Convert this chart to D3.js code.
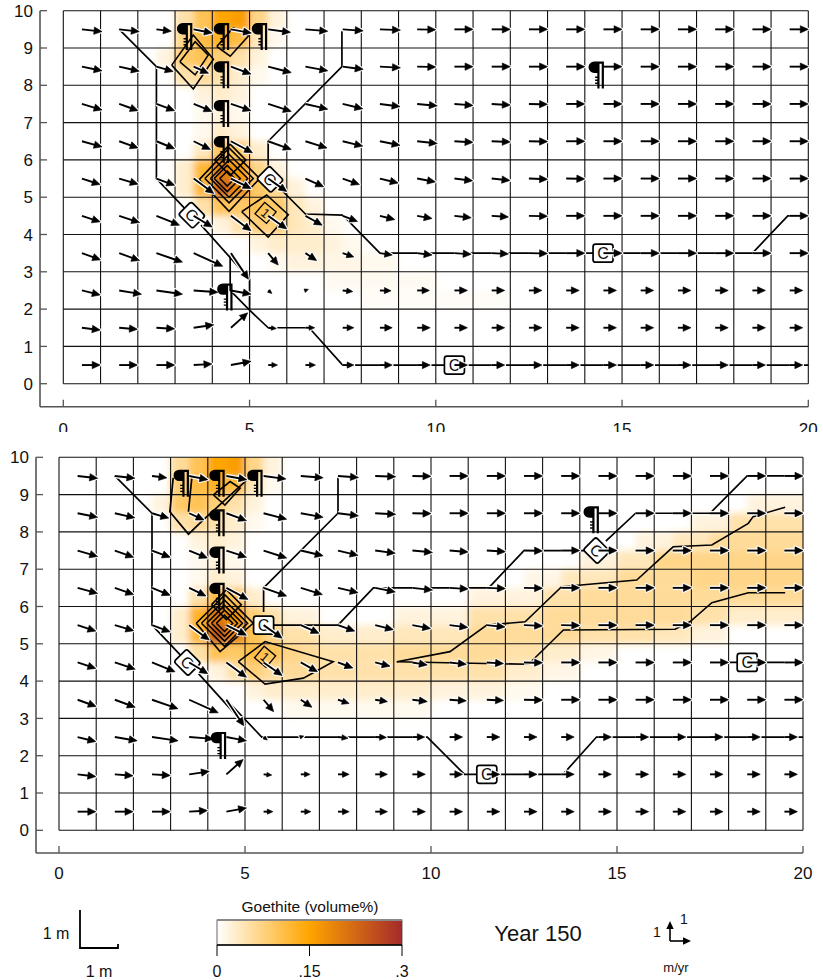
<!DOCTYPE html>
<html><head><meta charset="utf-8">
<script src="https://cdn.jsdelivr.net/npm/d3@7"></script>
<style>
body{margin:0;background:#fff}
svg{display:block}
text{font-family:"Liberation Sans",Arial,sans-serif;fill:#111}
</style>
</head><body>
<svg id="chart" width="823" height="980"></svg>
<script>
// ---------------- DATA ----------------
const X_TICKS = [0, 5, 10, 15, 20];
const Y_TICKS = [0, 1, 2, 3, 4, 5, 6, 7, 8, 9, 10];
const GRID_X = [0,1,2,3,4,5,6,7,8,9,10,11,12,13,14,15,16,17,18,19,20];
const GRID_Y = [0,1,2,3,4,5,6,7,8,9,10];
const CELL_X = [0.5,1.5,2.5,3.5,4.5,5.5,6.5,7.5,8.5,9.5,10.5,11.5,12.5,13.5,14.5,15.5,16.5,17.5,18.5,19.5];
const CELL_Y = [9.5,8.5,7.5,6.5,5.5,4.5,3.5,2.5,1.5,0.5];
// velocity arrows (horizontal / vertical component, hundredths of m per plotted unit)
const U = [
 [54,54,40,50,55,60,60,55,55,50,50,50,50,50,50,50,50,50,50,50],
 [54,54,45,40,54,62,60,55,55,50,50,50,50,50,50,50,50,50,50,50],
 [54,51,49,49,54,62,60,54,54,54,50,50,50,50,50,50,50,50,50,50],
 [54,51,49,45,58,62,58,54,54,54,50,50,50,50,50,50,50,50,50,50],
 [49,51,49,54,54,50,49,45,49,49,49,49,50,50,50,50,50,50,50,50],
 [49,55,62,50,54,50,45,40,40,40,45,45,50,50,50,50,50,50,50,50],
 [50,55,70,78,47,27,30,30,33,40,45,45,50,50,50,50,50,50,50,50],
 [49,60,70,65,54,10,8,27,30,33,35,35,35,35,35,35,35,35,35,35],
 [49,49,49,54,45,22,25,30,33,35,35,35,35,35,35,35,35,35,35,35],
 [49,49,49,49,54,25,27,30,33,35,35,35,35,35,35,35,35,35,35,35]
];
const V = [
 [-6,-6,-5,-10,-10,-8,-5,-4,-2,-1,0,0,0,0,0,0,0,0,0,0],
 [-11,-12,-13,-18,-20,-16,-11,-7,-3,-1,0,0,0,0,0,0,0,0,0,0],
 [-16,-18,-18,-20,-18,-20,-14,-13,-7,-5,-4,-3,-1,0,0,0,0,0,0,0],
 [-15,-18,-20,-22,-31,-22,-18,-13,-11,-6,-3,-2,-1,0,0,0,0,0,0,0],
 [-16,-15,-18,-40,-27,-35,-22,-16,-12,-9,-6,-5,-2,-1,0,0,0,0,0,0],
 [-16,-18,-25,-30,-40,-35,-25,-15,-10,-7,-5,-3,-1,0,0,0,0,0,0,0],
 [-18,-20,-24,-35,-70,-32,-20,-10,-5,-5,-3,-2,-1,0,0,0,0,0,0,0],
 [-12,-10,-10,-5,-10,-8,3,-3,-1,0,0,0,0,0,0,0,0,0,0,0],
 [-6,-4,-3,8,40,-2,0,0,0,0,0,0,0,0,0,0,0,0,0,0],
 [0,0,0,3,10,0,0,0,0,0,0,0,0,0,0,0,0,0,0,0]
];
// goethite volume% : [yBottom, xLeft, xRight, value], cell height 0.5 m
const HEAT_TOP = [
 [9.5,3,3.5,.05],[9.5,3.5,4,.1],[9.5,4,4.5,.15],[9.5,4.5,5,.16],[9.5,5,5.5,.07],[9.5,5.5,6,.02],
 [9,3,3.5,.07],[9,3.5,4,.11],[9,4,4.5,.13],[9,4.5,5,.11],[9,5,5.5,.04],[9,5.5,6,.01],
 [8.5,2.5,3,.02],[8.5,3,3.5,.09],[8.5,3.5,4,.1],[8.5,4,4.5,.08],[8.5,4.5,5,.05],[8.5,5,5.5,.02],
 [8,3,3.5,.05],[8,3.5,4,.06],[8,4,4.5,.05],[8,4.5,5,.03],[8,5,5.5,.01],
 [7.5,3.5,4,.02],[7.5,4,4.5,.03],[7.5,4.5,5,.02],
 [7,3.5,4,.01],[7,4,4.5,.02],[7,4.5,5,.01],
 [6.5,3.5,4,.01],[6.5,4,4.5,.03],[6.5,4.5,5,.02],
 [6,3.5,4,.04],[6,4,4.5,.1],[6,4.5,5,.09],[6,5,5.5,.03],
 [5.5,3,3.5,.03],[5.5,3.5,4,.12],[5.5,4,4.5,.2],[5.5,4.5,5,.16],[5.5,5,5.5,.07],[5.5,5.5,6,.02],
 [5,3,3.5,.03],[5,3.5,4,.12],[5,4,4.5,.23],[5,4.5,5,.18],[5,5,5.5,.09],[5,5.5,6,.06],[5,6,6.5,.02],
 [4.5,3.5,4,.05],[4.5,4,4.5,.1],[4.5,4.5,5,.09],[4.5,5,5.5,.1],[4.5,5.5,6,.09],[4.5,6,6.5,.04],[4.5,6.5,7,.02],
 [4,4,4.5,.02],[4,4.5,5,.05],[4,5,5.5,.08],[4,5.5,6,.08],[4,6,6.5,.04],[4,6.5,7,.03],[4,7,7.5,.01],
 [3.5,5,5.5,.02],[3.5,5.5,6,.03],[3.5,6,7,.03],[3.5,7,7.5,.02],[3.5,7.5,8,.01],
 [3,5.5,6,.01],[3,6,7,.02],[3,7,8,.015],[3,8,9,.01],
 [2.5,7,10,.008],[2,8,12,.005]
];
const HEAT_BOTTOM = [
 [9.5,3,3.5,.06],[9.5,3.5,4,.1],[9.5,4,4.5,.15],[9.5,4.5,5,.16],[9.5,5,5.5,.07],[9.5,5.5,6,.02],
 [9,3,3.5,.08],[9,3.5,4,.11],[9,4,4.5,.13],[9,4.5,5,.11],[9,5,5.5,.04],[9,5.5,6,.01],
 [8.5,2.5,3,.02],[8.5,3,3.5,.09],[8.5,3.5,4,.1],[8.5,4,4.5,.08],[8.5,4.5,5,.05],[8.5,5,5.5,.02],
 [8,3,3.5,.05],[8,3.5,4,.06],[8,4,4.5,.05],[8,4.5,5,.03],[8,5,5.5,.01],
 [7.5,3.5,4,.02],[7.5,4,4.5,.03],[7.5,4.5,5,.02],
 [7,3.5,4,.01],[7,4,4.5,.02],[7,4.5,5,.01],
 [6.5,3.5,4,.01],[6.5,4,4.5,.03],[6.5,4.5,5,.02],
 [6,3.5,4,.05],[6,4,4.5,.11],[6,4.5,5,.1],[6,5,5.5,.03],
 [5.5,3,3.5,.03],[5.5,3.5,4,.13],[5.5,4,4.5,.21],[5.5,4.5,5,.17],[5.5,5,5.5,.08],[5.5,5.5,6,.05],[5.5,6,7,.02],[5.5,9,11,.02],[5.5,11,13,.05],[5.5,13,17,.06],[5.5,17,18,.05],[5.5,18,20,.03],
 [5,3,3.5,.03],[5,3.5,4,.12],[5,4,4.5,.24],[5,4.5,5,.19],[5,5,5.5,.1],[5,5.5,6,.07],[5,6,7,.05],[5,7,9,.03],[5,9,11,.04],[5,11,14,.06],[5,14,16,.05],[5,16,17,.04],[5,17,18,.02],
 [4.5,3.5,4,.05],[4.5,4,4.5,.1],[4.5,4.5,5,.09],[4.5,5,5.5,.11],[4.5,5.5,6,.1],[4.5,6,6.5,.07],[4.5,6.5,7,.06],[4.5,7,9,.05],[4.5,9,12,.06],[4.5,12,13,.05],[4.5,13,14,.03],[4.5,14,15,.015],
 [4,4,4.5,.02],[4,4.5,5,.05],[4,5,5.5,.08],[4,5.5,7,.06],[4,7,9,.05],[4,9,12,.05],[4,12,13,.03],[4,13,14,.015],
 [3.5,5,5.5,.02],[3.5,5.5,7,.03],[3.5,7,10,.03],[3.5,10,12,.02],[3.5,12,13,.01],
 [3,6,10,.01],
 [6,11,13,.02],[6,13,14,.05],[6,14,17,.06],[6,17,20,.06],
 [6.5,12.5,13.5,.015],[6.5,13.5,15,.04],[6.5,15,17,.06],[6.5,17,20,.07],
 [7,14,15,.02],[7,15,16,.04],[7,16,20,.07],
 [7.5,15.5,16.5,.02],[7.5,16.5,17.5,.04],[7.5,17.5,20,.06],
 [8,17,18,.02],[8,18,20,.05],
 [8.5,18.5,20,.02]
];
// flow paths (m)
const PATHS_TOP = [
 [[1.5,9.5],[2.5,8.5],[2.5,5.5],[3.45,4.5]],
 [[3.7,4.25],[5.0,2.8],[5.0,2.0]],
 [[4.48,3.45],[4.48,2.5],[5.0,1.97],[5.5,1.5],[6.6,1.5],[7.5,0.5],[20,0.5]],
 [[7.48,9.45],[7.48,8.5],[5.5,6.5],[5.5,5.85]],
 [[5.75,5.3],[6.5,4.55],[7.5,4.52],[8.5,3.5],[18.5,3.5],[19.45,4.5],[20,4.5]]
];
const PATHS_BOTTOM = [
 [[1.5,9.5],[2.5,8.5],[2.5,5.5],[3.45,4.5]],
 [[3.75,4.2],[5.0,2.82]],
 [[4.5,3.5],[5.45,2.5],[9.9,2.5],[10.9,1.5],[13.55,1.5],[14.45,2.5],[20,2.5]],
 [[7.5,9.45],[7.5,8.5],[5.5,6.5],[5.5,5.85]],
 [[5.75,5.5],[7.5,5.5],[8.45,6.5],[11.55,6.5],[12.5,7.5],[14.2,7.5]],
 [[14.7,7.75],[15.5,8.5],[17.5,8.5],[18.5,9.5],[20,9.5]],
 [[17.9,4.5],[20,4.5]],
 [[3.07,9.45],[2.98,8.54],[3.48,7.94],[3.88,8.32],[5.22,9.55]],
 [[3.48,8.54],[3.57,9.45]]
];
// goethite contour lines (m)
const CONTOURS_TOP = [
 [[3.65,5.47],[4.45,6.32],[5.27,5.5],[4.45,4.62],[3.65,5.47]],
 [[3.8,5.5],[4.45,6.15],[5.1,5.5],[4.45,4.85],[3.8,5.5]],
 [[3.95,5.5],[4.45,6.0],[4.95,5.5],[4.45,5.0],[3.95,5.5]],
 [[4.05,5.5],[4.4,5.85],[4.75,5.5],[4.4,5.15],[4.05,5.5]],
 [[4.2,5.5],[4.4,5.7],[4.6,5.5],[4.4,5.3],[4.2,5.5]],
 [[4.06,6.0],[4.48,6.42],[4.9,6.0],[4.48,5.58],[4.06,6.0]],
 [[4.79,4.61],[5.46,5.06],[6.04,4.53],[5.5,3.93],[4.79,4.61]],
 [[2.91,8.54],[3.49,9.35],[4.03,8.7],[3.49,7.9],[2.91,8.54]],
 [[3.13,8.63],[3.54,9.17],[3.89,8.81],[3.54,8.28],[3.13,8.63]],
 [[4.12,9.04],[4.56,9.54],[4.97,9.32],[4.48,8.78],[4.12,9.04]]
];
const CONTOURS_BOTTOM = [
 [[3.69,5.55],[4.46,6.31],[5.22,5.55],[4.33,4.79],[3.69,5.55]],
 [[3.83,5.55],[4.45,6.17],[5.07,5.55],[4.45,4.93],[3.83,5.55]],
 [[3.97,5.55],[4.45,6.03],[4.93,5.55],[4.45,5.07],[3.97,5.55]],
 [[4.1,5.55],[4.45,5.9],[4.8,5.55],[4.45,5.2],[4.1,5.55]],
 [[4.23,5.55],[4.45,5.77],[4.67,5.55],[4.45,5.33],[4.23,5.55]],
 [[4.1,6.05],[4.5,6.45],[4.9,6.05],[4.5,5.65],[4.1,6.05]],
 [[4.82,4.52],[5.54,5.06],[7.37,4.52],[6.57,4.08],[5.54,3.92],[4.82,4.52]],
 [[4.15,8.99],[4.6,9.35],[4.87,9.17],[4.46,8.72],[4.15,8.99]],
 [[9.08,4.52],[10.51,4.79],[11.5,5.5],[12.53,5.59],[13.51,6.53],[15.53,6.71],[16.51,7.6],[17.55,7.65],[18.53,8.23],[18.66,8.41],[19.52,8.66]],
 [[9.08,4.52],[12.62,4.45],[13.56,5.37],[16.56,5.39],[16.96,5.59],[17.55,6.1],[18.53,6.37],[19.52,6.37]]
];
// symbols: [x, y] or [x, y, rotation]
const PILCROW_TOP = [[3.27,9.48],[4.26,9.48],[5.28,9.48],[4.26,8.46],[4.26,7.42],[4.26,6.45],[4.35,2.5],[14.32,8.45]];
const PILCROW_BOTTOM = [[3.3,9.48],[4.26,9.48],[5.28,9.48],[4.26,8.42],[4.26,7.42],[4.26,6.45],[4.3,2.45],[14.32,8.5]];
const CMARK_TOP = [[3.45,4.52,45],[5.55,5.48,45],[14.49,3.5,0],[10.5,0.5,0]];
const CMARK_BOTTOM = [[3.45,4.5,45],[5.5,5.5,0],[14.45,7.5,45],[18.5,4.5,0],[11.5,1.5,0]];
const ONEMARK_TOP = [[5.43,4.58,40]];
const ONEMARK_BOTTOM = [[5.54,4.65,40]];
// colour bar
const CBAR_DOMAIN = [0, 0.15, 0.3];
const CBAR_COLORS = ["#ffffff", "#ffa500", "#a52a2a"];
const CBAR_TICKS = [0, 0.15, 0.3];
const CBAR_LABELS = ["0", ".15", ".3"];
const CBAR_TITLE = "Goethite (volume%)";
const YEAR_LABEL = "Year 150";

// ---------------- LAYOUT ----------------
const svg = d3.select("#chart");
const defs = svg.append("defs");
const heatColor = d3.scaleLinear().domain(CBAR_DOMAIN).range(CBAR_COLORS);

const blur = defs.append("filter").attr("id","blur").attr("x","-10%").attr("y","-10%").attr("width","120%").attr("height","120%");
blur.append("feGaussianBlur").attr("stdDeviation", 3.6);

// pilcrow-like source marker shape (local px, origin at glyph anchor)
const PIL_SHAPE =
  "M-2.5,-7 L7.2,-7 L7.2,20 L5,20 L5,-4.8 L2.8,-4.8 L2.8,20 L0.6,20 L0.6,4.4 " +
  "L-2.5,4.4 A5.7,5.7 0 0 1 -2.5,-7 Z " +
  "M0.6,8 L-1.6,8 L-1.6,9.4 L0.6,9.4 Z M0.6,11 L-1.6,11 L-1.6,12.4 L0.6,12.4 Z M0.6,14 L-1.6,14 L-1.6,15.4 L0.6,15.4 Z";

const panels = [
  {id:"top", px0:63.3, px1:808.3, py0:383.7, py1:10.7, ax:40, ay:406.7, labOff:28,
   heat:HEAT_TOP, paths:PATHS_TOP, contours:CONTOURS_TOP, pil:PILCROW_TOP, cm:CMARK_TOP, one:ONEMARK_TOP},
  {id:"bot", px0:59, px1:803, py0:830.3, py1:457.3, ax:36, ay:853, labOff:26,
   heat:HEAT_BOTTOM, paths:PATHS_BOTTOM, contours:CONTOURS_BOTTOM, pil:PILCROW_BOTTOM, cm:CMARK_BOTTOM, one:ONEMARK_BOTTOM}
];

function arrowGeom(x0,y0,x1,y1){
  const dx=x1-x0, dy=y1-y0, L=Math.hypot(dx,dy)||1;
  const ux=dx/L, uy=dy/L;
  const hl=Math.min(8, Math.max(4, L*0.6)), hw=hl*0.46;
  const bx=x1-ux*hl, by=y1-uy*hl;
  return {shaft:[[x0,y0],[bx+ux*1.5,by+uy*1.5]], head:[[x1,y1],[bx-uy*hw,by+ux*hw],[bx+uy*hw,by-ux*hw]]};
}

function drawPanel(p, gRoot){
  const x = d3.scaleLinear().domain([0,20]).range([p.px0,p.px1]);
  const y = d3.scaleLinear().domain([0,10]).range([p.py0,p.py1]);
  const g = gRoot.append("g");
  g.append("rect").attr("x",0).attr("y",p.id==="top"?0:432).attr("width",823).attr("height",p.id==="top"?432:448).attr("fill","#fff");

  const clipId="clip-"+p.id;
  defs.append("clipPath").attr("id",clipId).append("rect")
    .attr("x",x(0)).attr("y",y(10)).attr("width",x(20)-x(0)).attr("height",y(0)-y(10));

  // heat map
  const hg = g.append("g").attr("clip-path",`url(#${clipId})`).append("g").attr("filter","url(#blur)");
  hg.selectAll("rect").data(p.heat).join("rect")
    .attr("x",d=>x(d[1])-(d[1]===0?10:0))
    .attr("width",d=>x(d[2])-x(d[1])+(d[2]===20?10:0)+(d[1]===0?10:0))
    .attr("y",d=>y(d[0]+0.5)-(d[0]+0.5>=10?12:0))
    .attr("height",d=>y(d[0])-y(d[0]+0.5)+(d[0]+0.5>=10?12:0))
    .attr("fill",d=>heatColor(d[3]));

  // grid
  const gg = g.append("g").attr("stroke","#111").attr("stroke-width",1.1);
  gg.selectAll("line.v").data(GRID_X).join("line").attr("class","v")
    .attr("x1",d=>x(d)).attr("x2",d=>x(d)).attr("y1",y(0)).attr("y2",y(10));
  gg.selectAll("line.h").data(GRID_Y).join("line").attr("class","h")
    .attr("y1",d=>y(d)).attr("y2",d=>y(d)).attr("x1",x(0)).attr("x2",x(20));

  const line = d3.line().x(d=>x(d[0])).y(d=>y(d[1]));
  g.append("g").selectAll("path").data(p.contours).join("path")
    .attr("d",line).attr("fill","none").attr("stroke","#000").attr("stroke-width",1.6).attr("stroke-linejoin","miter");
  g.append("g").selectAll("path").data(p.paths).join("path")
    .attr("d",line).attr("fill","none").attr("stroke","#000").attr("stroke-width",1.7);

  // C markers
  const cm = g.append("g").selectAll("g").data(p.cm).join("g")
    .attr("transform",d=>`translate(${x(d[0])},${y(d[1])}) rotate(${d[2]})`);
  cm.append("rect").attr("x",-10).attr("y",-9).attr("width",20).attr("height",18).attr("rx",2.5)
    .attr("fill","#fff").attr("stroke","#000").attr("stroke-width",1.7);
  cm.append("text").attr("text-anchor","middle").attr("dy","0.36em").attr("font-size",16).text("C");
  // "1" markers
  const om = g.append("g").selectAll("g").data(p.one).join("g")
    .attr("transform",d=>`translate(${x(d[0])},${y(d[1])}) rotate(${d[2]})`);
  om.append("rect").attr("x",-7.5).attr("y",-7.5).attr("width",15).attr("height",15)
    .attr("fill","none").attr("stroke","#000").attr("stroke-width",1.3);
  om.append("text").attr("text-anchor","middle").attr("dy","0.36em").attr("font-size",13).text("1");

  // arrows
  const arrows=[];
  CELL_Y.forEach((cy,i)=>CELL_X.forEach((cx,j)=>{
    arrows.push(arrowGeom(x(cx),y(cy),x(cx+U[i][j]/100),y(cy+V[i][j]/100)));
  }));
  const ag = g.append("g");
  const poly = d=>"M"+d.map(q=>q.join(",")).join("L")+"Z";
  const seg = d=>"M"+d.map(q=>q.join(",")).join("L");
  ag.selectAll("path.hs").data(arrows).join("path").attr("class","hs").attr("d",d=>seg(d.shaft))
    .attr("stroke","#fff").attr("stroke-width",4.4).attr("fill","none");
  ag.selectAll("path.hh").data(arrows).join("path").attr("class","hh").attr("d",d=>poly(d.head))
    .attr("fill","#fff").attr("stroke","#fff").attr("stroke-width",2.8).attr("stroke-linejoin","round");
  ag.selectAll("path.bs").data(arrows).join("path").attr("class","bs").attr("d",d=>seg(d.shaft))
    .attr("stroke","#000").attr("stroke-width",1.9).attr("fill","none");
  ag.selectAll("path.bh").data(arrows).join("path").attr("class","bh").attr("d",d=>poly(d.head))
    .attr("fill","#000").attr("stroke","#000").attr("stroke-width",0.6).attr("stroke-linejoin","round");

  // pilcrow source markers
  g.append("g").selectAll("path").data(p.pil).join("path")
    .attr("transform",d=>`translate(${x(d[0])},${y(d[1])})`)
    .attr("d",PIL_SHAPE).attr("fill","#000");

  // axes
  const axc="#555";
  g.append("line").attr("x1",p.ax).attr("x2",p.ax).attr("y1",y(10)).attr("y2",p.ay).attr("stroke",axc).attr("stroke-width",1.6);
  g.append("line").attr("x1",p.ax).attr("x2",x(20)).attr("y1",p.ay).attr("y2",p.ay).attr("stroke",axc).attr("stroke-width",1.6);
  g.selectAll("line.yt").data(Y_TICKS).join("line").attr("class","yt")
    .attr("x1",p.ax).attr("x2",p.ax+7).attr("y1",d=>y(d)).attr("y2",d=>y(d)).attr("stroke",axc).attr("stroke-width",1.3);
  g.selectAll("line.xt").data(X_TICKS).join("line").attr("class","xt")
    .attr("x1",d=>x(d)).attr("x2",d=>x(d)).attr("y1",p.ay).attr("y2",p.ay-7).attr("stroke",axc).attr("stroke-width",1.3);
  g.selectAll("text.yl").data(Y_TICKS).join("text").attr("class","yl")
    .attr("x",p.ax-7).attr("y",d=>y(d)).attr("dy","0.36em").attr("text-anchor","end").attr("font-size",17).text(d=>d);
  g.selectAll("text.xl").data(X_TICKS).join("text").attr("class","xl")
    .attr("x",d=>x(d)).attr("y",p.ay+p.labOff).attr("text-anchor","middle").attr("font-size",17).text(d=>d);
}

const root = svg.append("g");
drawPanel(panels[0], root);
drawPanel(panels[1], root);

// ---------------- LEGEND ----------------
const lg = svg.append("g");
lg.append("path").attr("d","M80,910 L80,948 L118,948 L118,944").attr("fill","none").attr("stroke","#000").attr("stroke-width",1.8);
lg.append("text").attr("x",56).attr("y",939).attr("text-anchor","middle").attr("font-size",16).text("1 m");
lg.append("text").attr("x",99).attr("y",977).attr("text-anchor","middle").attr("font-size",16).text("1 m");
const cb = d3.scaleLinear().domain([CBAR_DOMAIN[0],CBAR_DOMAIN[2]]).range([217,402]);
const grad = defs.append("linearGradient").attr("id","cbg").attr("x1","0%").attr("x2","100%");
CBAR_DOMAIN.forEach((v,i)=>grad.append("stop").attr("offset",(v/CBAR_DOMAIN[2]*100)+"%").attr("stop-color",CBAR_COLORS[i]));
lg.append("rect").attr("x",cb(0)).attr("y",920).attr("width",cb(0.3)-cb(0)).attr("height",25).attr("fill","url(#cbg)").attr("stroke","#444").attr("stroke-width",0.8);
lg.append("line").attr("x1",cb(0)).attr("x2",cb(0.3)).attr("y1",920).attr("y2",920).attr("stroke","#888").attr("stroke-width",2.2);
lg.append("line").attr("x1",cb(0)).attr("x2",cb(0.3)).attr("y1",945).attr("y2",945).attr("stroke","#000").attr("stroke-width",1.6);
lg.selectAll("line.ct").data(CBAR_TICKS).join("line").attr("class","ct")
  .attr("x1",d=>cb(d)).attr("x2",d=>cb(d)).attr("y1",945).attr("y2",956).attr("stroke","#000").attr("stroke-width",1);
lg.selectAll("text.cl").data(CBAR_TICKS).join("text").attr("class","cl")
  .attr("x",d=>cb(d)).attr("y",977).attr("text-anchor","middle").attr("font-size",16).text((d,i)=>CBAR_LABELS[i]);
lg.append("text").attr("x",310).attr("y",912).attr("text-anchor","middle").attr("font-size",15.5).text(CBAR_TITLE);
lg.append("text").attr("x",538).attr("y",941).attr("text-anchor","middle").attr("font-size",22).text(YEAR_LABEL);
const va=[arrowGeom(670,941,670,921), arrowGeom(670,941,691,941)];
va.forEach(a=>{
  lg.append("path").attr("d","M"+a.shaft.map(q=>q.join(",")).join("L")).attr("stroke","#000").attr("stroke-width",1.6);
  lg.append("path").attr("d","M"+a.head.map(q=>q.join(",")).join("L")+"Z").attr("fill","#000");
});
lg.append("text").attr("x",657).attr("y",937).attr("text-anchor","middle").attr("font-size",14).text("1");
lg.append("text").attr("x",684).attr("y",924).attr("text-anchor","middle").attr("font-size",14).text("1");
lg.append("text").attr("x",676).attr("y",972).attr("text-anchor","middle").attr("font-size",13).text("m/yr");
</script>
</body></html>
